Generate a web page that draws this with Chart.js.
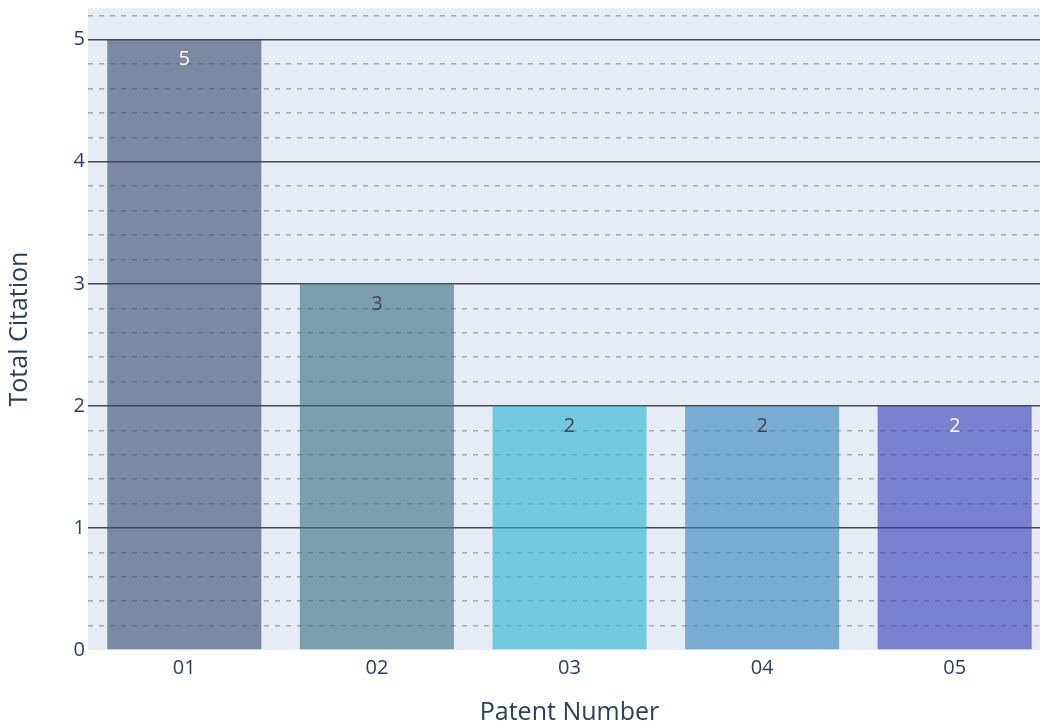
<!DOCTYPE html>
<html>
<head>
<meta charset="utf-8">
<script src="https://cdn.jsdelivr.net/npm/chart.js@4/dist/chart.umd.min.js"></script>
<style>
    html, body { margin: 0; background: #fff; overflow: hidden; }
    #wrap { width: 1051px; height: 728px; }
</style>
</head>
<body>
<div id="wrap"><canvas id="citationChart" width="1051" height="728"></canvas></div>
<script>
// chart data
const patents = ["01", "02", "03", "04", "05"];
const citations = [5, 3, 2, 2, 2];
const barColors = [
    "rgba(51, 71, 108, 0.6)",
    "rgba(51, 109, 127, 0.6)",
    "rgba(37, 178, 209, 0.6)",
    "rgba(49, 130, 188, 0.6)",
    "rgba(47, 56, 183, 0.6)"
];
const labelColors = ["#ffffff", "#444444", "#444444", "#444444", "#ffffff"];
const yMax = 5.26;
const yStep = 0.2;

const textColor = "#2a3f5f";
const font = "'Open Sans', 'Noto Sans', sans-serif";

function isMajor(v) {
    return Math.abs(v - Math.round(v)) < 1e-6;
}

// plot background
const plotBackground = {
    id: "plotBackground",
    beforeDraw(chart) {
        const { ctx, chartArea } = chart;
        ctx.save();
        ctx.fillStyle = "#e5ecf6";
        ctx.fillRect(chartArea.left, chartArea.top, chartArea.right - chartArea.left, chartArea.bottom - chartArea.top);
        ctx.restore();
    }
};

// value text inside the top of each bar
const barValues = {
    id: "barValues",
    afterDatasetsDraw(chart) {
        const { ctx } = chart;
        const meta = chart.getDatasetMeta(0);
        ctx.save();
        ctx.font = "20px " + font;
        ctx.textAlign = "center";
        ctx.textBaseline = "middle";
        meta.data.forEach((bar, i) => {
            ctx.fillStyle = labelColors[i];
            ctx.fillText(String(citations[i]), bar.x, bar.y + 20);
        });
        ctx.restore();
    }
};

const ctx = document.getElementById("citationChart").getContext("2d");
new Chart(ctx, {
    type: "bar",
    data: {
        labels: patents,
        datasets: [{
            label: "Total Citation",
            data: citations,
            backgroundColor: barColors,
            borderWidth: 0,
            categoryPercentage: 0.8,
            barPercentage: 1.0
        }]
    },
    options: {
        responsive: false,
        animation: false,
        layout: { padding: { top: 8, right: 0, left: 0, bottom: 0 } },
        plugins: {
            legend: { display: false },
            tooltip: { enabled: false }
        },
        scales: {
            x: {
                grid: { display: false, drawTicks: false },
                border: { display: false },
                ticks: {
                    color: textColor,
                    font: { family: font, size: 20 },
                    padding: 6
                },
                title: {
                    display: true,
                    text: "Patent Number",
                    color: textColor,
                    font: { family: font, size: 25 },
                    padding: { top: 0, bottom: 0 }
                },
                afterFit(scale) {
                    scale.height = 78;
                    scale.paddingLeft = 0;
                    scale.paddingRight = 0;
                }
            },
            y: {
                min: 0,
                max: yMax,
                border: {
                    display: false,
                    dash: (c) => (c.tick && isMajor(c.tick.value)) ? [] : [5, 6]
                },
                grid: {
                    drawTicks: false,
                    color: (c) => {
                        if (!c.tick) return "transparent";
                        if (c.tick.value === 0) return "transparent";
                        return isMajor(c.tick.value) ? "#4a4a4a" : "#a9abb0";
                    },
                    lineWidth: 1.5
                },
                ticks: {
                    stepSize: yStep,
                    includeBounds: false,
                    autoSkip: false,
                    color: textColor,
                    font: { family: font, size: 20 },
                    padding: 3,
                    callback: (v) => isMajor(v) ? String(Math.round(v)) : ""
                },
                title: {
                    display: true,
                    text: "Total Citation",
                    color: textColor,
                    font: { family: font, size: 25 },
                    padding: { top: 5, bottom: 0 }
                },
                afterFit(scale) {
                    scale.width = 88;
                    scale.paddingTop = 0;
                    scale.paddingBottom = 0;
                }
            }
        }
    },
    plugins: [plotBackground, barValues]
});
</script>
</body>
</html>
